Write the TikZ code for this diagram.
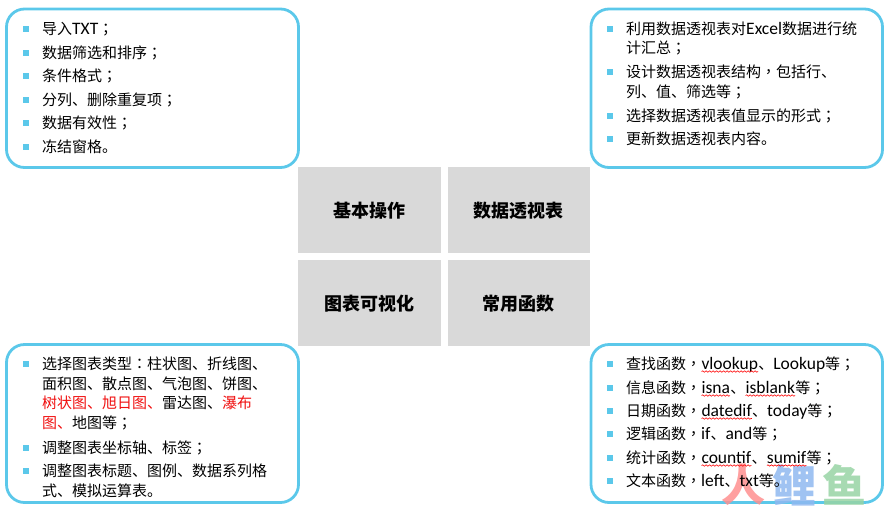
\documentclass[tikz,border=0pt]{standalone}
\usepackage{fontspec}
\setmainfont{Noto Sans CJK SC}
\newfontfamily\cjktc{Noto Sans CJK TC}
\newfontfamily\latn{Carlito}
\usetikzlibrary{positioning, decorations.pathmorphing}

\definecolor{framecol}{HTML}{5BC8EA}
\definecolor{cellcol}{HTML}{D9D9D9}
\definecolor{hotcol}{HTML}{F01010}
\definecolor{fishred}{HTML}{FF8F8F}
\definecolor{fishblue}{HTML}{8FB8F0}
\definecolor{fishgreen}{HTML}{98D4A4}
\newcommand{\mk}[1]{{\cjktc #1}}
\newcommand{\en}[1]{{\latn\fontsize{17.5}{18}\selectfont #1}}
\newcommand{\sq}[1]{\tikz[baseline=(w.base)]{\node[inner sep=0, outer sep=0] (w) {\en{#1}}; \draw[red, line width=0.6pt, decorate, decoration={snake, amplitude=0.7pt, segment length=3.5pt}] ([yshift=-2.5pt]w.base west) -- ([yshift=-2.5pt]w.base east);}}

\begin{document}
\begin{tikzpicture}[x=1pt, y=-1pt, node distance=7pt,
    panel/.style = {draw=framecol, line width=2.8pt, rounded corners=18pt, outer sep=0, anchor=north west},
    cell/.style = {fill=cellcol, minimum width=142.5pt, minimum height=86pt, inner sep=0, outer sep=0, text height=17pt, text depth=2pt, font=\fontsize{18}{20}\selectfont\bfseries},
    item/.style = {anchor=west, inner sep=0, text height=12pt, text depth=1pt, font=\fontsize{15}{17}\selectfont},
    dot/.style = {fill=framecol, minimum size=6pt, inner sep=0},
    fish/.style = {opacity=0.85, font=\fontsize{44}{46}\selectfont\bfseries}]
    \useasboundingbox (0,0) rectangle (890,509);

    \node[panel, minimum width=292pt, minimum height=158.5pt] (TL) at (6.5,9) {};
    \node[panel, minimum width=291.5pt, minimum height=158.5pt] (TR) at (591,9) {};
    \node[panel, minimum width=292pt, minimum height=158pt] (BL) at (6.5,344.5) {};
    \node[panel, minimum width=291.5pt, minimum height=158pt] (BR) at (591,344.5) {};

    \node[cell, anchor=north west] (A) at (298,167) {基本操作};
    \node[cell] (B) [right=of A] {数据透视表};
    \node[cell] (C) [below=of A] {图表可视化};
    \node[cell] (D) [below=of B] {常用函数};

    \node[fish, text=fishred] (w1) at (743,485) {人};
    \node[fish, text=fishblue] (w2) at (794,485) {鲤};
    \node[fish, text=fishgreen] (w3) at (844,485) {鱼};

    \node[dot] (a1d) at (26,29) {};
    \node[item] (a1) at (42,29) {导入\en{TXT}\mk{；}};
    \node[dot] (a2d) at (26,52.5) {};
    \node[item] (a2) at (42,52.5) {数据筛选和排序\mk{；}};
    \node[dot] (a3d) at (26,76) {};
    \node[item] (a3) at (42,76) {条件格式\mk{；}};
    \node[dot] (a4d) at (26,99.5) {};
    \node[item] (a4) at (42,99.5) {分列、删除重复项\mk{；}};
    \node[dot] (a5d) at (26,123) {};
    \node[item] (a5) at (42,123) {数据有效性\mk{；}};
    \node[dot] (a6d) at (26,146.5) {};
    \node[item] (a6) at (42,146.5) {冻结窗格。};

    \node[dot] (b1d) at (609.5,29) {};
    \node[item] (b1) at (626,29) {利用数据透视表对\en{Excel}数据进行统};
    \node[item] (b1x) at (626,48) {计汇总\mk{；}};
    \node[dot] (b2d) at (609.5,72) {};
    \node[item] (b2) at (626,72) {设计数据透视表结构\mk{，}包括行、};
    \node[item] (b2x) at (626,92) {列、值、筛选等\mk{；}};
    \node[dot] (b3d) at (609.5,115.5) {};
    \node[item] (b3) at (626,115.5) {选择数据透视表值显示的形式\mk{；}};
    \node[dot] (b4d) at (609.5,139) {};
    \node[item] (b4) at (626,139) {更新数据透视表内容。};

    \node[dot] (c1d) at (26,364) {};
    \node[item] (c1) at (42,364) {选择图表类型\mk{：}柱状图、折线图、};
    \node[item] (c1x) at (42,383.5) {面积图、散点图、气泡图、饼图、};
    \node[item] (c1y) at (42,403) {\textcolor{hotcol}{树状图、旭日图、}雷达图、\textcolor{hotcol}{瀑布}};
    \node[item] (c1z) at (42,423) {\textcolor{hotcol}{图、}地图等\mk{；}};
    \node[dot] (c2d) at (26,448) {};
    \node[item] (c2) at (42,448) {调整图表坐标轴、标签\mk{；}};
    \node[dot] (c3d) at (26,471) {};
    \node[item] (c3) at (42,471) {调整图表标题、图例、数据系列格};
    \node[item] (c3x) at (42,490.5) {式、模拟运算表。};

    \node[dot] (d1d) at (609.5,363.5) {};
    \node[item] (d1) at (626,363.5) {查找函数\mk{，}\sq{vlookup}、\en{Lookup}等\mk{；}};
    \node[dot] (d2d) at (609.5,387.5) {};
    \node[item] (d2) at (626,387.5) {信息函数\mk{，}\sq{isna}、\sq{isblank}等\mk{；}};
    \node[dot] (d3d) at (609.5,410.5) {};
    \node[item] (d3) at (626,410.5) {日期函数\mk{，}\sq{datedif}、\en{today}等\mk{；}};
    \node[dot] (d4d) at (609.5,434) {};
    \node[item] (d4) at (626,434) {逻辑函数\mk{，}\en{if}、\en{and}等\mk{；}};
    \node[dot] (d5d) at (609.5,457.5) {};
    \node[item] (d5) at (626,457.5) {统计函数\mk{，}\sq{countif}、\sq{sumif}等\mk{；}};
    \node[dot] (d6d) at (609.5,481) {};
    \node[item] (d6) at (626,481) {文本函数\mk{，}\en{left}、\en{txt}等。};
\end{tikzpicture}
\end{document}
